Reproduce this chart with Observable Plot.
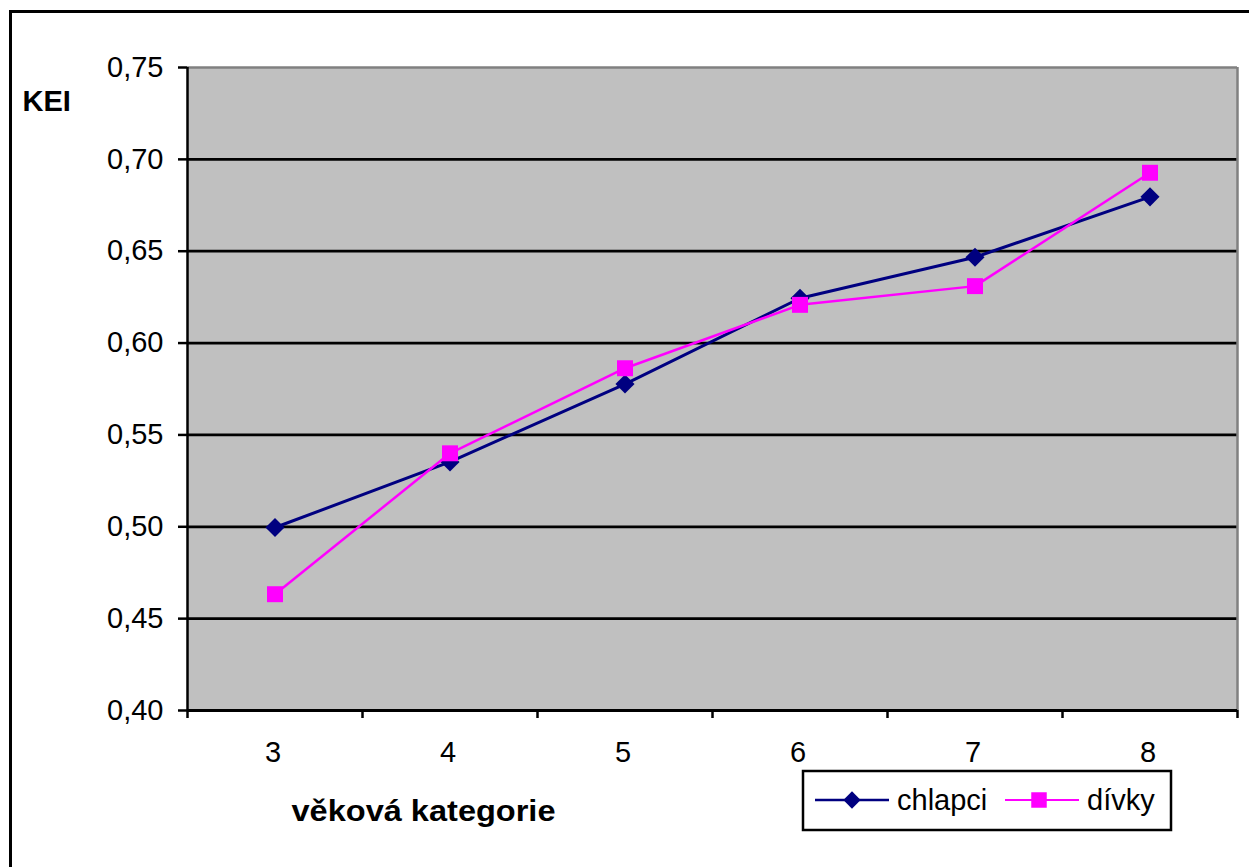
<!DOCTYPE html>
<html>
<head>
<meta charset="utf-8">
<script src="https://cdn.jsdelivr.net/npm/d3@7"></script>
<script src="https://cdn.jsdelivr.net/npm/@observablehq/plot@0.6"></script>
<style>
  html, body { margin: 0; padding: 0; background: #fff; }
  #wrap { position: relative; width: 1249px; height: 867px; overflow: hidden; font-family: "Liberation Sans", Arial, sans-serif; }
  #border { position: absolute; left: 9px; top: 10px; width: 1400px; height: 1000px; border: 3px solid #000; box-sizing: border-box; }
  #chart { position: absolute; left: 0; top: 0; }
  #legend { position: absolute; left: 0; top: 0; }
</style>
</head>
<body>
<div id="wrap">
  <div id="border"></div>
  <div id="chart"></div>
  <div id="legend"></div>
</div>
<script>
// ---- data ----
const categories = [3, 4, 5, 6, 7, 8];
const chlapci = [0.4996, 0.5353, 0.5777, 0.6244, 0.6467, 0.6796];
const divky   = [0.4633, 0.5400, 0.5863, 0.6208, 0.6310, 0.6927];
const seriesNames = ["chlapci", "dívky"];
const seriesColors = ["#000080", "#FF00FF"];
const yTicks = [0.40, 0.45, 0.50, 0.55, 0.60, 0.65, 0.70, 0.75];
const yLabel = "KEI";
const xLabel = "věková kategorie";

// ---- build table ----
const rows = [];
categories.forEach((c, i) => {
  rows.push({cat: c, value: chlapci[i], series: seriesNames[0]});
  rows.push({cat: c, value: divky[i], series: seriesNames[1]});
});
const rowsA = rows.filter(d => d.series === seriesNames[0]);
const rowsB = rows.filter(d => d.series === seriesNames[1]);

const xMin = d3.min(categories) - 0.5;
const xMax = d3.max(categories) + 0.5;
const boundaries = d3.range(xMin, xMax + 0.001, 1);
const yMin = d3.min(yTicks), yMax = d3.max(yTicks);
const czFmt = d => d3.format(".2f")(d).replace(".", ",");
const FONT = 29;

const chart = Plot.plot({
  width: 1249,
  height: 867,
  marginLeft: 187,
  marginRight: 12,
  marginTop: 67,
  marginBottom: 157,
  style: {fontFamily: '"Liberation Sans", Arial, sans-serif', fontSize: FONT + "px", color: "#000", background: "transparent", overflow: "visible"},
  x: {type: "linear", domain: [xMin, xMax]},
  y: {domain: [yMin, yMax]},
  color: {domain: seriesNames, range: seriesColors},
  marks: [
    Plot.frame({fill: "#c0c0c0", stroke: "none"}),
    Plot.ruleY(yTicks.slice(1, -1), {stroke: "#000", strokeWidth: 2.8}),
    Plot.ruleY([yMax], {stroke: "#808080", strokeWidth: 2.5}),
    Plot.ruleX([xMax], {stroke: "#808080", strokeWidth: 2.5}),
    Plot.ruleX([xMin], {stroke: "#000", strokeWidth: 2.5}),
    Plot.ruleY([yMin], {stroke: "#000", strokeWidth: 2.8}),
    Plot.axisY({ticks: yTicks, tickSize: 9, tickPadding: 15, tickFormat: czFmt, label: null, strokeWidth: 2.5, fontSize: FONT}),
    Plot.axisX({ticks: boundaries, tickSize: 8, tickFormat: () => "", label: null, strokeWidth: 2.5}),
    Plot.axisX({ticks: categories, tickSize: 0, tickPadding: 31, dx: -2, tickFormat: d => String(d), label: null, fontSize: FONT}),
    Plot.line(rowsA, {x: "cat", y: "value", stroke: "series", strokeWidth: 3}),
    Plot.dot(rowsA, {x: "cat", y: "value", fill: "series", symbol: "diamond2", r: 8.6, stroke: "none"}),
    Plot.line(rowsB, {x: "cat", y: "value", stroke: "series", strokeWidth: 2.5}),
    Plot.dot(rowsB, {x: "cat", y: "value", fill: "series", symbol: "square", r: 9, stroke: "none"}),
    Plot.text([yLabel], {frameAnchor: "top-left", dx: -165, dy: 43, text: d => d, textAnchor: "start", lineAnchor: "bottom", fontWeight: "bold", fontSize: FONT, fill: "#000"}),
    Plot.text([xLabel], {frameAnchor: "bottom-left", dx: 104, dy: 110, text: d => d, textAnchor: "start", lineAnchor: "bottom", fontWeight: "bold", fontSize: FONT, fill: "#000"})
  ]
});
// stretch the x-axis title glyphs to match the reference's wider text
d3.select(chart).selectAll("text").filter(function() { return this.textContent === xLabel; })
  .attr("textLength", 264).attr("lengthAdjust", "spacingAndGlyphs");
document.getElementById("chart").appendChild(chart);

// ---- legend ----
const lg = d3.select("#legend").append("svg")
  .attr("width", 1249).attr("height", 867)
  .style("font-family", '"Liberation Sans", Arial, sans-serif');
lg.append("rect").attr("x", 803).attr("y", 771).attr("width", 368).attr("height", 59)
  .attr("fill", "#fff").attr("stroke", "#000").attr("stroke-width", 2.5);
const items = [
  {name: seriesNames[0], color: seriesColors[0], x0: 815, x1: 889, cx: 852, tx: 897, sym: d3.symbolDiamond2, size: 190, w: 2.5},
  {name: seriesNames[1], color: seriesColors[1], x0: 1005, x1: 1079, cx: 1039, tx: 1087, sym: d3.symbolSquare, size: 240, w: 2}
];
items.forEach(it => {
  lg.append("line").attr("x1", it.x0).attr("x2", it.x1).attr("y1", 800).attr("y2", 800)
    .attr("stroke", it.color).attr("stroke-width", it.w);
  lg.append("path").attr("d", d3.symbol(it.sym, it.size)()).attr("transform", `translate(${it.cx},800)`)
    .attr("fill", it.color);
  lg.append("text").attr("x", it.tx).attr("y", 810).attr("font-size", FONT).attr("fill", "#000").text(it.name);
});
</script>
</body>
</html>
